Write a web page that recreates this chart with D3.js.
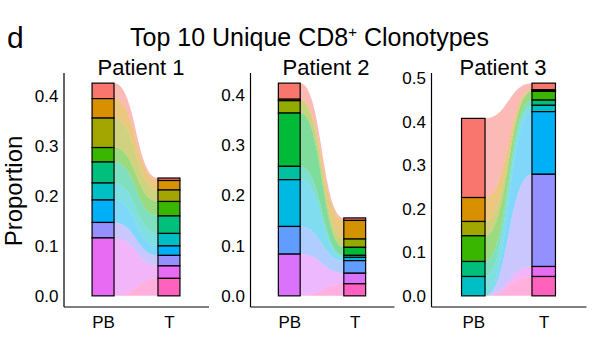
<!DOCTYPE html>
<meta charset="utf-8">
<style>
body {
  margin: 0;
  font-family: "Liberation Sans", Arial, sans-serif;
  background: #fff;
}
.axis path { stroke: #000; stroke-width: 1.2px; }
.axis text { font-family: "Liberation Sans", Arial, sans-serif; fill: #000; font-size: 17px; }
.seg { stroke: #000; stroke-width: 1.2px; }
</style>
<body>
<script src="https://cdn.jsdelivr.net/npm/d3@7"></script>
<script>

var stages = ["PB", "T"];
var patients = ["Patient 1", "Patient 2", "Patient 3"];

// clonotype colours (ggplot hue palette), top of stack first
var hue10 = ["#F8766D", "#D89000", "#A3A500", "#39B600", "#00BF7D", "#00BFC4", "#00B0F6", "#9590FF", "#E76BF3", "#FF62BC"];
var hue9 = ["#F8766D", "#D39200", "#93AA00", "#00BA38", "#00C19F", "#00B9E3", "#619CFF", "#DB72FB", "#FF61C3"];

// proportions per clonotype, same order as the colours
var p1PB = [0.031, 0.039, 0.059, 0.029, 0.042, 0.034, 0.045, 0.031, 0.116, 0];
var p1T  = [0.005, 0.019, 0.023, 0.029, 0.035, 0.025, 0.019, 0.021, 0.025, 0.035];
var p2PB = [0.032, 0.003, 0.0245, 0.106, 0.0265, 0.093, 0.055, 0.083, 0];
var p2T  = [0.005, 0.037, 0.0165, 0.016, 0.004, 0.0065, 0.025, 0.021, 0.024];
var p3PB = [0.182, 0.055, 0.033, 0.059, 0.0345, 0.0445, 0, 0, 0, 0];
var p3T  = [0.015, 0.002, 0.002, 0.020, 0.012, 0.0145, 0.144, 0.212, 0.023, 0.0445];

var yTicks1 = [0, 0.1, 0.2, 0.3, 0.4];
var yTicks3 = [0, 0.1, 0.2, 0.3, 0.4, 0.5];

var panels = [
  {name: patients[0], pb: p1PB, t: p1T, colors: hue10, ticks: yTicks1, x0: 63.5, x1: 208.5, tx: 141},
  {name: patients[1], pb: p2PB, t: p2T, colors: hue9, ticks: yTicks1, x0: 250, x1: 394, tx: 326},
  {name: patients[2], pb: p3PB, t: p3T, colors: hue10, ticks: yTicks3, x0: 431, x1: 586, tx: 503}
];

var plotTop = 72.5, plotBottom = 306.5;

var svg = d3.select("body").append("svg")
    .attr("width", 600)
    .attr("height", 340);

svg.append("text")
    .attr("x", 7)
    .attr("y", 48)
    .style("font-size", "30px")
    .text("d");

var title = svg.append("text")
    .attr("x", 130)
    .attr("y", 46)
    .style("font-size", "25px");
title.append("tspan").text("Top 10 Unique CD8");
title.append("tspan").attr("dy", -9).style("font-size", "15px").text("+");
title.append("tspan").attr("dy", 9).text(" Clonotypes");

svg.append("text")
    .attr("transform", "translate(22,191) rotate(-90)")
    .style("text-anchor", "middle")
    .style("font-size", "24px")
    .text("Proportion");

function stack(vals) {
  var total = d3.sum(vals), acc = total;
  return vals.map(function(v, i) {
    var s = {y1: acc, y0: acc - v, v: v, i: i};
    acc -= v;
    return s;
  });
}

panels.forEach(function(p) {
  var maxV = Math.max(d3.sum(p.pb), d3.sum(p.t));

  var x = d3.scalePoint()
      .domain(stages)
      .range([p.x0, p.x1])
      .padding(0.6);
  var bw = x.step() / 3;

  var y = d3.scaleLinear()
      .domain([-0.05 * maxV, 1.05 * maxV])
      .range([plotBottom, plotTop]);

  var g = svg.append("g");

  var sPB = stack(p.pb), sT = stack(p.t);
  var xa = x("PB") + bw / 2, xb = x("T") - bw / 2, xm = (xa + xb) / 2;

  // flows
  g.selectAll(".flow")
      .data(d3.range(p.pb.length))
    .enter().append("path")
      .attr("class", "flow")
      .attr("fill", function(i) { return p.colors[i]; })
      .attr("fill-opacity", 0.5)
      .attr("d", function(i) {
        var a = sPB[i], b = sT[i];
        return "M" + xa + "," + y(a.y1) +
          "C" + xm + "," + y(a.y1) + " " + xm + "," + y(b.y1) + " " + xb + "," + y(b.y1) +
          "L" + xb + "," + y(b.y0) +
          "C" + xm + "," + y(b.y0) + " " + xm + "," + y(a.y0) + " " + xa + "," + y(a.y0) + "Z";
      });

  // stacked bars
  [["PB", sPB], ["T", sT]].forEach(function(st) {
    g.selectAll(".seg" + st[0])
        .data(st[1].filter(function(d) { return d.v > 0; }))
      .enter().append("rect")
        .attr("class", "seg seg" + st[0])
        .attr("x", x(st[0]) - bw / 2)
        .attr("width", bw)
        .attr("y", function(d) { return y(d.y1); })
        .attr("height", function(d) { return y(d.y0) - y(d.y1); })
        .attr("fill", function(d) { return p.colors[d.i]; });
  });

  g.append("g")
      .attr("class", "axis")
      .attr("transform", "translate(" + p.x0 + ",0)")
      .call(d3.axisLeft(y).tickValues(p.ticks).tickSize(0).tickPadding(5)
        .tickFormat(d3.format(".1f")));

  g.append("g")
      .attr("class", "axis")
      .attr("transform", "translate(0," + plotBottom + ")")
      .call(d3.axisBottom(x).tickSize(0).tickPadding(9));

  svg.append("text")
      .attr("x", p.tx)
      .attr("y", 75)
      .style("text-anchor", "middle")
      .style("font-size", "22px")
      .text(p.name);
});

</script>
